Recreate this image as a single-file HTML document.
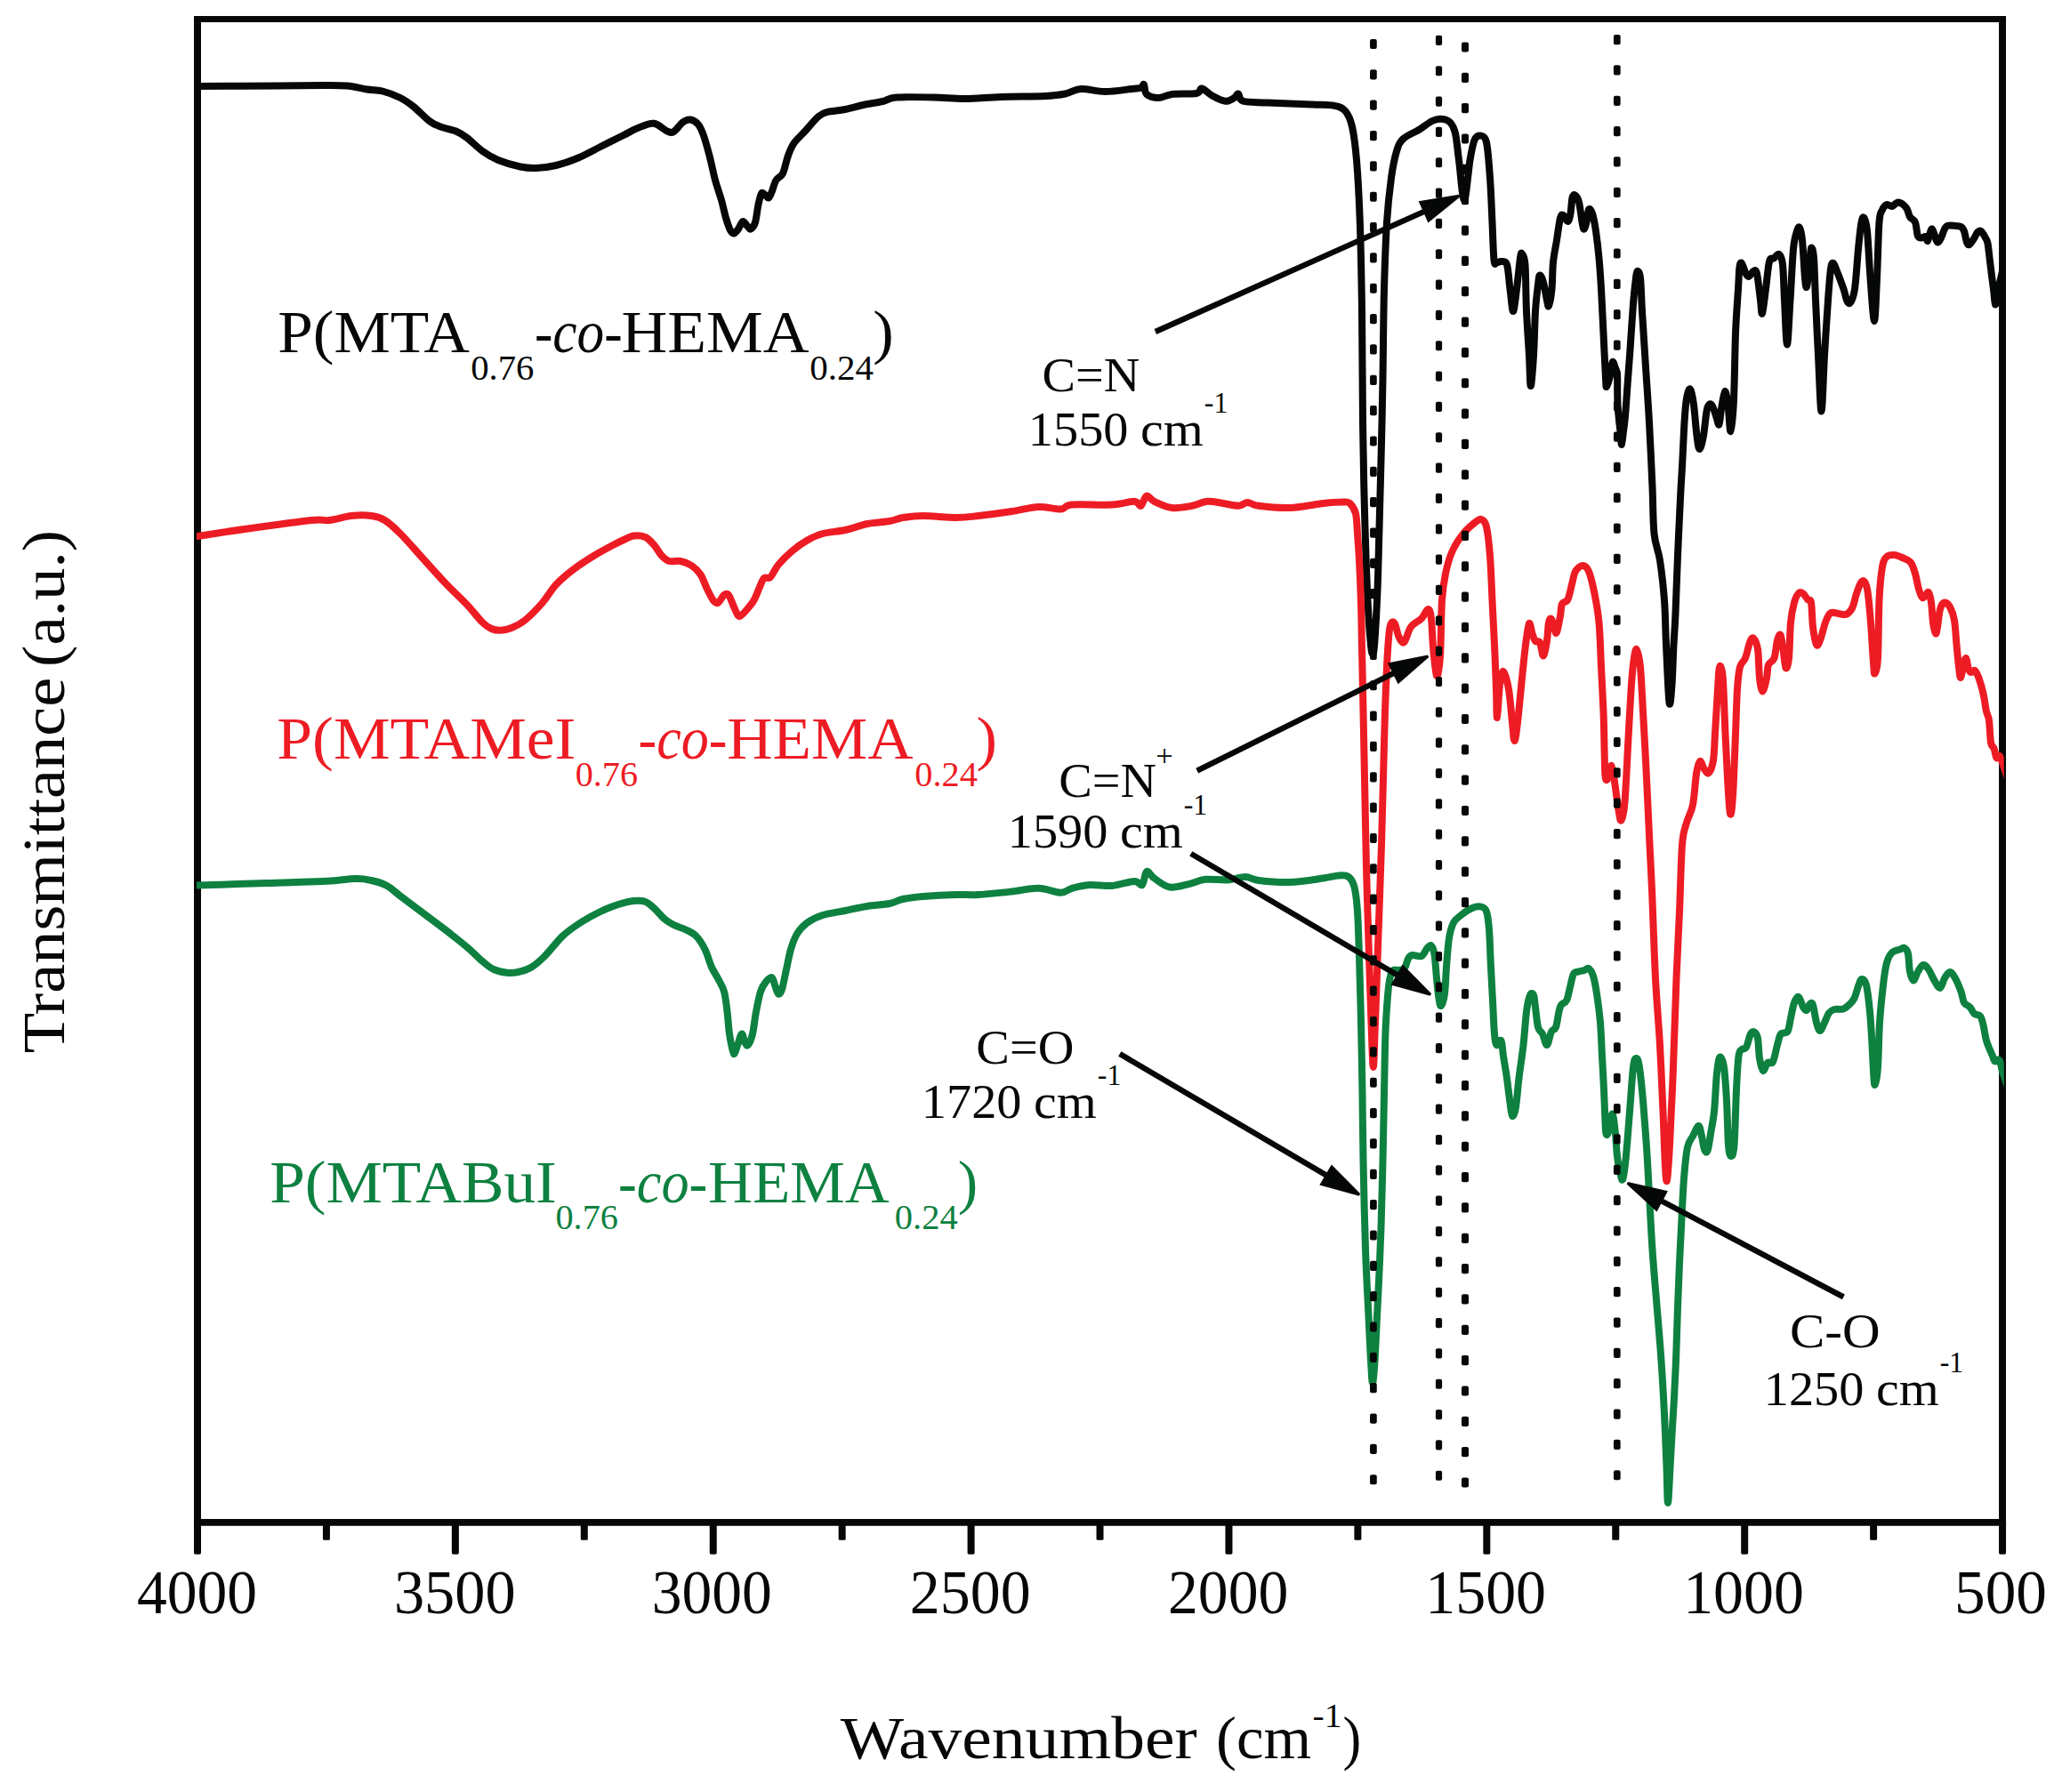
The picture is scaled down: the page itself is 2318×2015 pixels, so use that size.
<!DOCTYPE html>
<html><head><meta charset="utf-8"><title>FTIR spectra</title>
<style>html,body{margin:0;padding:0;background:#fff}svg{display:block}</style></head>
<body>
<svg width="2318" height="2015" viewBox="0 0 2318 2015" font-family="'Liberation Serif', 'DejaVu Serif', serif">
<rect width="2318" height="2015" fill="#fff"/>
<path d="M222,18V1715.8M2251.05,18V1715.8" stroke="#060807" stroke-width="7.95" fill="none"/>
<path d="M218.03,21.45H2255.03" stroke="#060807" stroke-width="6.9" fill="none"/>
<path d="M218.03,1711.95H2255.03" stroke="#060807" stroke-width="7.8" fill="none"/>
<defs><clipPath id="cc"><rect x="221" y="0" width="2031.8" height="2015"/></clipPath></defs>
<path d="M217.5,97.0C218.2,97.0 205.7,97.1 221.5,97.0C237.3,96.9 289.0,96.7 312.5,96.5C336.0,96.3 349.6,96.0 362.5,96.0C375.4,96.0 381.7,95.8 390.0,96.5C398.3,97.2 405.8,99.5 412.5,100.5C419.2,101.5 423.8,100.9 430.0,102.5C436.2,104.1 444.2,107.1 450.0,110.0C455.8,112.9 459.6,115.7 465.0,120.0C470.4,124.3 477.5,132.2 482.5,136.0C487.5,139.8 490.0,140.6 495.0,142.5C500.0,144.4 507.5,145.4 512.5,147.5C517.5,149.6 520.0,151.2 525.0,155.0C530.0,158.8 536.7,165.8 542.5,170.0C548.3,174.2 552.9,177.1 560.0,180.0C567.1,182.9 577.9,186.0 585.0,187.5C592.1,189.0 595.8,189.2 602.5,189.0C609.2,188.8 617.1,187.9 625.0,186.0C632.9,184.1 641.7,181.0 650.0,177.5C658.3,174.0 666.7,169.2 675.0,165.0C683.3,160.8 692.9,156.0 700.0,152.5C707.1,149.0 711.7,146.0 717.5,143.8C723.3,141.5 729.6,138.1 735.0,138.8C740.4,139.4 746.2,146.0 750.0,147.5C753.8,149.0 754.6,149.7 757.5,148.0C760.4,146.3 764.4,139.8 767.5,137.5C770.6,135.2 773.1,134.1 776.0,134.5C778.9,134.9 782.5,137.0 785.0,140.0C787.5,143.0 788.9,146.7 791.0,152.5C793.1,158.3 795.3,166.7 797.5,175.0C799.7,183.3 801.8,194.2 804.0,202.5C806.2,210.8 809.0,217.9 811.0,225.0C813.0,232.1 814.3,239.3 816.0,245.0C817.7,250.7 819.5,256.1 821.0,259.0C822.5,261.9 823.5,262.8 825.0,262.5C826.5,262.2 828.3,259.8 830.0,257.5C831.7,255.2 833.3,249.6 835.0,249.0C836.7,248.4 838.5,252.6 840.0,254.0C841.5,255.4 842.5,258.2 844.0,257.5C845.5,256.8 847.6,254.6 849.0,250.0C850.4,245.4 851.3,235.4 852.5,230.0C853.7,224.6 854.8,219.3 856.0,217.5C857.2,215.7 858.7,218.2 860.0,219.0C861.3,219.8 862.8,223.0 864.0,222.5C865.2,222.0 866.1,219.3 867.5,216.0C868.9,212.7 870.4,206.0 872.5,202.5C874.6,199.0 877.8,199.6 880.0,195.0C882.2,190.4 883.9,180.7 886.0,175.0C888.1,169.3 889.3,165.6 892.5,161.0C895.7,156.4 900.4,152.5 905.0,147.5C909.6,142.5 915.8,134.6 920.0,131.0C924.2,127.4 925.0,127.3 930.0,126.0C935.0,124.7 942.9,124.4 950.0,123.0C957.1,121.6 965.4,119.0 972.5,117.5C979.6,116.0 986.7,115.3 992.5,114.0C998.3,112.7 997.9,110.2 1007.5,109.5C1017.1,108.8 1037.1,109.2 1050.0,109.5C1062.9,109.8 1072.5,111.1 1085.0,111.0C1097.5,110.9 1110.0,109.5 1125.0,109.0C1140.0,108.5 1162.9,108.6 1175.0,108.0C1187.1,107.4 1190.8,106.8 1197.5,105.5C1204.2,104.2 1207.5,100.4 1215.0,100.0C1222.5,99.6 1232.9,103.0 1242.5,103.0C1252.1,103.0 1265.8,100.7 1272.5,100.0C1279.2,99.3 1280.2,99.6 1282.5,98.8C1284.8,97.9 1284.9,93.8 1286.0,95.0C1287.1,96.2 1286.2,103.5 1289.0,106.0C1291.8,108.5 1297.8,110.0 1302.5,110.0C1307.2,110.0 1310.4,106.8 1317.5,106.0C1324.6,105.2 1339.4,106.1 1345.0,105.0C1350.6,103.9 1348.1,99.1 1351.0,99.5C1353.9,99.9 1358.1,105.1 1362.5,107.5C1366.9,109.9 1373.3,113.3 1377.5,113.8C1381.7,114.2 1385.1,111.4 1387.5,110.0C1389.9,108.6 1390.3,104.9 1392.0,105.5C1393.7,106.1 1392.0,112.1 1397.5,113.8C1403.0,115.4 1412.1,114.9 1425.0,115.5C1437.9,116.1 1462.5,117.0 1475.0,117.5C1487.5,118.0 1493.8,117.5 1500.0,118.8C1506.2,120.0 1509.2,121.0 1512.5,125.0C1515.8,129.0 1517.9,133.3 1520.0,142.5C1522.1,151.7 1523.5,162.1 1525.0,180.0C1526.5,197.9 1527.8,221.7 1528.8,250.0C1529.8,278.3 1530.5,312.5 1531.0,350.0C1531.5,387.5 1531.5,437.5 1532.0,475.0C1532.5,512.5 1533.1,541.7 1534.0,575.0C1534.9,608.3 1536.3,650.0 1537.5,675.0C1538.7,700.0 1540.0,715.0 1541.0,725.0C1542.0,735.0 1542.9,737.2 1543.8,735.0C1544.6,732.8 1545.1,726.2 1546.0,712.0C1546.9,697.8 1548.2,672.8 1549.0,650.0C1549.8,627.2 1550.3,600.5 1551.0,575.0C1551.7,549.5 1552.4,522.0 1553.0,497.0C1553.6,472.0 1554.0,453.7 1554.5,425.0C1555.0,396.3 1555.2,354.2 1556.0,325.0C1556.8,295.8 1557.7,270.8 1559.0,250.0C1560.3,229.2 1562.2,213.3 1564.0,200.0C1565.8,186.7 1567.8,177.3 1570.0,170.0C1572.2,162.7 1573.3,160.0 1577.5,156.0C1581.7,152.0 1589.6,149.3 1595.0,146.0C1600.4,142.7 1605.8,138.0 1610.0,136.0C1614.2,134.0 1616.7,133.5 1620.0,133.8C1623.3,134.0 1627.3,134.8 1630.0,137.5C1632.7,140.2 1634.3,142.9 1636.0,150.0C1637.7,157.1 1638.3,167.5 1640.0,180.0C1641.7,192.5 1643.9,225.0 1646.0,225.0C1648.1,225.0 1650.6,191.2 1652.5,180.0C1654.4,168.8 1655.6,162.1 1657.5,157.5C1659.4,152.9 1661.8,152.1 1664.0,152.5C1666.2,152.9 1669.2,152.1 1671.0,160.0C1672.8,167.9 1673.9,185.0 1675.0,200.0C1676.1,215.0 1676.8,234.6 1677.5,250.0C1678.2,265.4 1678.7,284.9 1679.5,292.5C1680.3,300.1 1681.2,295.2 1682.5,295.5C1683.8,295.8 1685.6,293.7 1687.5,294.0C1689.4,294.3 1692.3,292.3 1694.0,297.5C1695.7,302.7 1696.3,316.2 1697.5,325.0C1698.7,333.8 1699.8,350.0 1701.0,350.0C1702.2,350.0 1703.7,335.0 1705.0,325.0C1706.3,315.0 1708.0,296.6 1709.0,290.0C1710.0,283.4 1710.1,284.2 1711.0,285.5C1711.9,286.8 1713.7,286.8 1714.5,297.5C1715.3,308.2 1715.2,332.9 1716.0,350.0C1716.8,367.1 1718.2,386.0 1719.0,400.0C1719.8,414.0 1719.9,434.0 1720.8,434.0C1721.6,434.0 1723.1,414.0 1724.0,400.0C1724.9,386.0 1725.2,363.3 1726.0,350.0C1726.8,336.7 1728.2,326.8 1729.0,320.0C1729.8,313.2 1730.0,309.9 1731.0,309.5C1732.0,309.1 1733.7,312.8 1735.0,317.5C1736.3,322.2 1738.0,333.1 1739.0,337.5C1740.0,341.9 1740.1,346.1 1741.0,344.0C1741.9,341.9 1743.7,333.2 1744.5,325.0C1745.3,316.8 1745.1,304.2 1746.0,295.0C1746.9,285.8 1748.7,278.3 1750.0,270.0C1751.3,261.7 1752.8,249.7 1754.0,245.0C1755.2,240.3 1756.1,241.3 1757.5,242.0C1758.9,242.7 1761.2,249.3 1762.5,249.0C1763.8,248.7 1764.7,244.4 1765.5,240.0C1766.3,235.6 1766.7,225.9 1767.5,222.5C1768.3,219.1 1769.2,218.7 1770.5,219.5C1771.8,220.3 1773.6,222.0 1775.0,227.5C1776.4,233.0 1778.0,247.5 1779.0,252.5C1780.0,257.5 1780.2,258.3 1781.0,257.5C1781.8,256.7 1783.2,251.2 1784.0,247.5C1784.8,243.8 1785.0,236.8 1786.0,235.5C1787.0,234.2 1788.7,235.9 1790.0,240.0C1791.3,244.1 1792.8,251.7 1794.0,260.0C1795.2,268.3 1796.5,279.2 1797.5,290.0C1798.5,300.8 1799.2,310.8 1800.0,325.0C1800.8,339.2 1801.7,358.3 1802.5,375.0C1803.3,391.7 1804.4,415.0 1805.0,425.0C1805.6,435.0 1805.2,435.4 1806.0,435.0C1806.8,434.6 1808.9,427.2 1810.0,422.5C1811.1,417.8 1811.7,408.4 1812.7,407.0C1813.7,405.6 1815.1,411.7 1816.0,414.0C1816.9,416.3 1817.6,416.7 1818.0,421.0C1818.4,425.3 1818.1,434.2 1818.2,440.0C1818.3,445.8 1818.3,450.7 1818.6,456.0C1818.9,461.3 1819.5,466.7 1820.0,472.0C1820.5,477.3 1821.3,483.3 1821.8,488.0C1822.3,492.7 1822.5,500.5 1823.0,500.0C1823.5,499.5 1824.3,490.3 1825.0,485.0C1825.7,479.7 1826.2,476.8 1827.0,468.0C1827.8,459.2 1828.7,444.0 1829.6,432.0C1830.5,420.0 1831.2,410.8 1832.3,396.0C1833.3,381.2 1834.9,356.3 1835.9,343.0C1837.0,329.7 1837.8,322.3 1838.6,316.0C1839.3,309.7 1839.5,305.6 1840.4,305.0C1841.3,304.4 1843.1,305.0 1844.0,312.5C1844.9,320.0 1845.0,333.3 1846.0,350.0C1847.0,366.7 1848.7,391.7 1850.0,412.5C1851.3,433.3 1852.8,452.5 1854.0,475.0C1855.2,497.5 1856.6,526.7 1857.5,547.5C1858.4,568.3 1858.1,586.2 1859.5,600.0C1860.9,613.8 1864.1,617.5 1866.0,630.0C1867.9,642.5 1869.8,659.2 1871.0,675.0C1872.2,690.8 1872.1,705.8 1873.0,725.0C1873.9,744.2 1875.4,782.5 1876.5,790.0C1877.6,797.5 1878.7,780.8 1879.5,770.0C1880.3,759.2 1880.8,738.3 1881.5,725.0C1882.2,711.7 1882.8,706.7 1883.5,690.0C1884.2,673.3 1885.1,646.7 1886.0,625.0C1886.9,603.3 1888.2,576.7 1889.0,560.0C1889.8,543.3 1890.2,539.2 1891.0,525.0C1891.8,510.8 1892.7,487.8 1893.5,475.0C1894.3,462.2 1894.9,454.2 1896.0,448.0C1897.1,441.8 1898.7,436.3 1900.0,437.5C1901.3,438.7 1902.8,446.2 1904.0,455.0C1905.2,463.8 1906.4,481.7 1907.5,490.0C1908.6,498.3 1909.2,505.0 1910.5,505.0C1911.8,505.0 1913.6,497.5 1915.0,490.0C1916.4,482.5 1917.5,465.8 1919.0,460.0C1920.5,454.2 1922.3,453.8 1924.0,455.0C1925.7,456.2 1927.6,463.8 1929.0,467.5C1930.4,471.2 1931.5,478.8 1932.5,477.5C1933.5,476.2 1933.9,466.2 1935.0,460.0C1936.1,453.8 1937.8,440.8 1939.0,440.0C1940.2,439.2 1941.4,447.5 1942.5,455.0C1943.6,462.5 1944.4,485.8 1945.5,485.0C1946.6,484.2 1948.1,468.3 1949.0,450.0C1949.9,431.7 1950.2,395.8 1951.0,375.0C1951.8,354.2 1953.2,337.5 1954.0,325.0C1954.8,312.5 1954.8,304.8 1955.5,300.0C1956.2,295.2 1956.8,294.8 1958.0,296.0C1959.2,297.2 1961.2,305.0 1962.5,307.5C1963.8,310.0 1964.6,311.4 1966.0,311.0C1967.4,310.6 1969.5,305.6 1971.0,305.0C1972.5,304.4 1973.7,302.1 1975.0,307.5C1976.3,312.9 1978.0,330.0 1979.0,337.5C1980.0,345.0 1980.0,354.6 1981.0,352.5C1982.0,350.4 1983.7,334.8 1985.0,325.0C1986.3,315.2 1987.5,299.8 1989.0,294.0C1990.5,288.2 1992.2,291.8 1994.0,290.5C1995.8,289.2 1998.3,284.8 2000.0,286.0C2001.7,287.2 2003.0,288.9 2004.0,297.5C2005.0,306.1 2005.2,322.5 2006.0,337.5C2006.8,352.5 2007.9,387.5 2009.0,387.5C2010.1,387.5 2011.3,355.4 2012.5,337.5C2013.7,319.6 2014.8,292.9 2016.0,280.0C2017.2,267.1 2018.8,264.0 2020.0,260.0C2021.2,256.0 2022.0,254.3 2023.0,256.0C2024.0,257.7 2025.0,260.6 2026.0,270.0C2027.0,279.4 2028.2,303.8 2029.0,312.5C2029.8,321.2 2030.2,324.6 2031.0,322.5C2031.8,320.4 2033.2,307.2 2034.0,300.0C2034.8,292.8 2035.2,280.7 2036.0,279.0C2036.8,277.3 2038.2,280.2 2039.0,290.0C2039.8,299.8 2040.2,319.2 2041.0,337.5C2041.8,355.8 2042.9,379.2 2044.0,400.0C2045.1,420.8 2046.3,462.5 2047.5,462.5C2048.7,462.5 2049.8,420.8 2051.0,400.0C2052.2,379.2 2053.8,353.8 2055.0,337.5C2056.2,321.2 2057.0,309.4 2058.0,302.5C2059.0,295.6 2059.7,295.2 2061.0,296.0C2062.3,296.8 2064.1,302.7 2066.0,307.5C2067.9,312.3 2070.8,320.0 2072.5,325.0C2074.2,330.0 2074.8,334.9 2076.0,337.5C2077.2,340.1 2078.5,342.6 2080.0,340.5C2081.5,338.4 2083.5,335.1 2085.0,325.0C2086.5,314.9 2087.8,292.5 2089.0,280.0C2090.2,267.5 2091.4,255.8 2092.5,250.0C2093.6,244.2 2094.4,243.3 2095.5,245.0C2096.6,246.7 2097.8,248.8 2099.0,260.0C2100.2,271.2 2101.2,295.7 2102.5,312.5C2103.8,329.3 2105.8,361.0 2107.0,361.0C2108.2,361.0 2109.1,331.0 2110.0,312.5C2110.9,294.0 2111.5,262.8 2112.5,250.0C2113.5,237.2 2114.6,239.3 2116.0,236.0C2117.4,232.7 2119.2,230.7 2121.0,230.0C2122.8,229.3 2124.8,232.4 2127.0,232.0C2129.2,231.6 2131.3,227.2 2134.0,227.5C2136.7,227.8 2140.8,231.0 2143.0,233.8C2145.2,236.5 2145.3,241.0 2147.0,243.8C2148.7,246.5 2151.5,246.5 2153.0,250.0C2154.5,253.5 2154.7,262.1 2155.8,265.0C2156.8,267.9 2158.0,267.3 2159.5,267.5C2161.0,267.7 2163.2,265.4 2164.5,266.0C2165.8,266.6 2166.2,271.6 2167.0,271.0C2167.8,270.4 2168.7,264.8 2169.5,262.5C2170.3,260.2 2171.1,257.1 2172.0,257.5C2172.9,257.9 2174.0,262.5 2175.0,265.0C2176.0,267.5 2176.8,272.1 2178.0,272.5C2179.2,272.9 2180.7,270.0 2182.0,267.5C2183.3,265.0 2184.8,259.8 2186.0,257.5C2187.2,255.2 2187.7,254.4 2189.5,253.8C2191.3,253.1 2194.5,253.5 2197.0,253.8C2199.5,254.0 2202.7,254.0 2204.5,255.0C2206.3,256.0 2206.9,257.1 2208.0,260.0C2209.1,262.9 2210.0,270.0 2211.0,272.5C2212.0,275.0 2212.6,275.8 2214.0,275.0C2215.4,274.2 2218.0,269.8 2219.5,267.5C2221.0,265.2 2221.8,262.2 2223.0,261.0C2224.2,259.8 2225.5,258.9 2227.0,260.0C2228.5,261.1 2230.8,265.2 2232.0,267.5C2233.2,269.8 2233.7,269.6 2234.5,273.6C2235.3,277.6 2236.0,285.4 2236.7,291.4C2237.4,297.3 2238.2,303.4 2238.9,309.3C2239.7,315.2 2240.5,321.5 2241.2,327.0C2241.9,332.5 2242.3,341.7 2243.0,342.5C2243.7,343.3 2244.8,335.8 2245.5,332.0C2246.2,328.2 2246.6,324.5 2247.5,320.0C2248.4,315.5 2249.2,312.5 2251.0,305.0C2252.8,297.5 2256.8,280.0 2258.0,275.0" stroke="#060807" stroke-width="8" stroke-linejoin="round" stroke-linecap="butt" fill="none" clip-path="url(#cc)"/>
<path d="M217.5,603.6C218.2,603.5 211.9,604.4 221.5,603.0C231.1,601.6 253.6,598.0 275.0,595.0C296.4,592.0 334.2,586.7 350.0,585.0C365.8,583.3 362.5,585.8 370.0,585.0C377.5,584.2 387.1,580.8 395.0,580.0C402.9,579.2 411.2,579.2 417.5,580.0C423.8,580.8 427.1,581.7 432.5,585.0C437.9,588.3 442.9,592.9 450.0,600.0C457.1,607.1 466.7,618.3 475.0,627.5C483.3,636.7 491.7,646.2 500.0,655.0C508.3,663.8 517.9,672.5 525.0,680.0C532.1,687.5 537.9,695.5 542.5,700.0C547.1,704.5 549.2,705.5 552.5,707.0C555.8,708.5 558.8,708.9 562.5,708.8C566.2,708.6 570.4,707.9 575.0,706.0C579.6,704.1 584.2,702.2 590.0,697.5C595.8,692.8 604.2,684.2 610.0,677.5C615.8,670.8 619.2,663.8 625.0,657.5C630.8,651.2 637.9,645.4 645.0,640.0C652.1,634.6 660.0,629.6 667.5,625.0C675.0,620.4 684.6,615.4 690.0,612.5C695.4,609.6 696.2,609.2 700.0,607.5C703.8,605.8 708.3,603.1 712.5,602.5C716.7,601.9 721.2,602.1 725.0,603.8C728.8,605.4 731.8,609.0 735.0,612.5C738.2,616.0 741.1,621.9 744.0,625.0C746.9,628.1 749.0,630.0 752.5,631.0C756.0,632.0 760.8,630.2 765.0,631.0C769.2,631.8 773.8,633.5 777.5,636.0C781.2,638.5 784.6,641.6 787.5,646.0C790.4,650.4 792.5,657.5 795.0,662.5C797.5,667.5 800.4,673.5 802.5,676.0C804.6,678.5 805.6,678.7 807.5,677.5C809.4,676.3 812.1,670.4 814.0,669.0C815.9,667.6 817.3,667.2 819.0,669.0C820.7,670.8 822.3,676.3 824.0,680.0C825.7,683.7 827.6,688.9 829.0,691.0C830.4,693.1 830.7,693.5 832.5,692.5C834.3,691.5 837.5,687.9 840.0,685.0C842.5,682.1 845.2,679.2 847.5,675.0C849.8,670.8 852.1,664.2 854.0,660.0C855.9,655.8 857.0,651.8 859.0,650.0C861.0,648.2 863.3,651.5 866.0,649.0C868.7,646.5 871.0,639.8 875.0,635.0C879.0,630.2 884.6,624.6 890.0,620.0C895.4,615.4 901.7,610.8 907.5,607.5C913.3,604.2 917.9,601.9 925.0,600.0C932.1,598.1 941.7,597.8 950.0,596.0C958.3,594.2 966.7,590.7 975.0,589.0C983.3,587.3 993.3,587.2 1000.0,586.0C1006.7,584.8 1008.8,583.0 1015.0,582.0C1021.2,581.0 1027.5,580.0 1037.5,580.0C1047.5,580.0 1064.6,582.0 1075.0,582.0C1085.4,582.0 1089.6,581.2 1100.0,580.0C1110.4,578.8 1126.2,576.7 1137.5,575.0C1148.8,573.3 1158.3,570.4 1167.5,570.0C1176.7,569.6 1186.2,572.9 1192.5,572.5C1198.8,572.1 1195.4,568.3 1205.0,567.5C1214.6,566.7 1238.3,568.1 1250.0,567.5C1261.7,566.9 1269.6,563.5 1275.0,563.8C1280.4,564.0 1280.2,569.8 1282.5,568.8C1284.8,567.7 1286.5,558.3 1289.0,557.5C1291.5,556.7 1292.8,561.5 1297.5,563.8C1302.2,566.0 1310.4,570.2 1317.5,571.0C1324.6,571.8 1333.3,570.0 1340.0,568.8C1346.7,567.5 1351.7,564.2 1357.5,563.8C1363.3,563.3 1369.2,565.2 1375.0,566.0C1380.8,566.8 1387.9,568.9 1392.5,568.8C1397.1,568.6 1398.8,565.0 1402.5,565.0C1406.2,565.0 1407.1,567.8 1415.0,568.8C1422.9,569.8 1437.9,571.5 1450.0,571.0C1462.1,570.5 1477.5,567.1 1487.5,566.0C1497.5,564.9 1505.0,564.5 1510.0,564.5C1515.0,564.5 1515.2,563.8 1517.5,566.0C1519.8,568.2 1522.6,571.8 1524.0,577.5C1525.4,583.2 1525.3,591.2 1526.0,600.0C1526.7,608.8 1527.3,616.7 1528.0,630.0C1528.7,643.3 1529.5,663.3 1530.0,680.0C1530.5,696.7 1530.6,710.0 1531.0,730.0C1531.4,750.0 1532.0,775.8 1532.5,800.0C1533.0,824.2 1533.4,845.8 1534.0,875.0C1534.6,904.2 1535.2,941.7 1536.0,975.0C1536.8,1008.3 1538.1,1045.8 1539.0,1075.0C1539.9,1104.2 1540.7,1129.2 1541.5,1150.0C1542.3,1170.8 1543.0,1200.0 1543.8,1200.0C1544.5,1200.0 1545.0,1175.0 1546.0,1150.0C1547.0,1125.0 1548.3,1083.3 1549.5,1050.0C1550.7,1016.7 1552.1,979.2 1553.0,950.0C1553.9,920.8 1554.3,900.0 1555.0,875.0C1555.7,850.0 1556.2,822.5 1557.0,800.0C1557.8,777.5 1558.6,755.8 1559.5,740.0C1560.4,724.2 1561.2,711.6 1562.5,705.0C1563.8,698.4 1565.8,698.7 1567.5,700.5C1569.2,702.3 1570.7,712.4 1572.5,716.0C1574.3,719.6 1576.2,723.8 1578.5,722.0C1580.8,720.2 1582.8,709.4 1586.0,705.0C1589.2,700.6 1594.8,698.8 1598.0,695.5C1601.2,692.2 1603.7,684.9 1605.5,685.0C1607.3,685.1 1608.1,689.0 1609.0,696.0C1609.9,703.0 1610.0,716.3 1611.0,727.0C1612.0,737.7 1613.7,758.2 1615.0,760.0C1616.3,761.8 1618.0,751.7 1619.0,737.5C1620.0,723.3 1620.0,690.4 1621.0,675.0C1622.0,659.6 1623.1,654.2 1625.0,645.0C1626.9,635.8 1629.2,627.5 1632.5,620.0C1635.8,612.5 1640.4,605.7 1645.0,600.0C1649.6,594.3 1656.5,588.6 1660.0,586.0C1663.5,583.4 1664.2,583.4 1666.0,584.5C1667.8,585.6 1669.5,585.8 1671.0,592.5C1672.5,599.2 1673.9,611.2 1675.0,625.0C1676.1,638.8 1676.7,658.3 1677.5,675.0C1678.3,691.7 1679.2,708.3 1680.0,725.0C1680.8,741.7 1681.5,761.3 1682.0,775.0C1682.5,788.7 1682.3,807.8 1683.0,807.0C1683.7,806.2 1684.8,778.7 1686.0,770.0C1687.2,761.3 1688.3,754.2 1690.0,755.0C1691.7,755.8 1694.3,765.4 1696.0,775.0C1697.7,784.6 1698.9,802.8 1700.0,812.5C1701.1,822.2 1701.5,833.0 1702.5,833.0C1703.5,833.0 1704.6,824.2 1706.0,812.5C1707.4,800.8 1709.5,777.1 1711.0,762.5C1712.5,747.9 1713.7,735.2 1715.0,725.0C1716.3,714.8 1717.8,703.1 1719.0,701.0C1720.2,698.9 1721.3,709.2 1722.5,712.5C1723.7,715.8 1724.6,719.3 1726.0,721.0C1727.4,722.7 1729.5,719.8 1731.0,722.5C1732.5,725.2 1733.7,737.9 1735.0,737.5C1736.3,737.1 1738.0,726.2 1739.0,720.0C1740.0,713.8 1740.2,704.0 1741.0,700.0C1741.8,696.0 1742.9,694.8 1744.0,696.0C1745.1,697.2 1746.5,705.0 1747.5,707.5C1748.5,710.0 1748.9,713.5 1750.0,711.0C1751.1,708.5 1753.0,697.8 1754.0,692.5C1755.0,687.2 1754.6,682.1 1756.0,679.0C1757.4,675.9 1760.6,678.0 1762.5,674.0C1764.4,670.0 1766.1,660.2 1767.5,655.0C1768.9,649.8 1769.1,645.7 1771.0,642.5C1772.9,639.3 1776.5,636.0 1779.0,636.0C1781.5,636.0 1783.8,637.2 1786.0,642.5C1788.2,647.8 1790.6,657.9 1792.5,667.5C1794.4,677.1 1796.2,686.2 1797.5,700.0C1798.8,713.8 1799.2,733.3 1800.0,750.0C1800.8,766.7 1801.9,785.0 1802.5,800.0C1803.1,815.0 1803.2,828.0 1803.5,840.0C1803.8,852.0 1803.9,866.0 1804.5,872.0C1805.1,878.0 1805.8,877.8 1807.0,876.0C1808.2,874.2 1810.1,859.9 1811.5,861.0C1812.9,862.1 1814.2,874.2 1815.5,882.5C1816.8,890.8 1818.3,904.3 1819.5,911.0C1820.7,917.7 1821.3,924.0 1822.5,922.5C1823.7,921.0 1825.2,917.4 1826.5,902.0C1827.8,886.6 1829.2,853.2 1830.5,830.0C1831.8,806.8 1833.2,778.6 1834.5,762.5C1835.8,746.4 1837.0,738.6 1838.0,733.5C1839.0,728.4 1839.5,729.2 1840.5,732.0C1841.5,734.8 1842.9,738.7 1844.0,750.0C1845.1,761.3 1845.8,779.2 1847.0,800.0C1848.2,820.8 1849.8,850.0 1851.0,875.0C1852.2,900.0 1853.5,929.2 1854.5,950.0C1855.5,970.8 1855.9,975.0 1857.0,1000.0C1858.1,1025.0 1859.5,1070.8 1861.0,1100.0C1862.5,1129.2 1864.6,1150.0 1866.0,1175.0C1867.4,1200.0 1868.5,1227.2 1869.5,1250.0C1870.5,1272.8 1871.2,1299.2 1872.0,1312.0C1872.8,1324.8 1873.2,1331.1 1874.0,1327.0C1874.8,1322.9 1875.8,1308.7 1877.0,1287.5C1878.2,1266.3 1879.8,1231.2 1881.0,1200.0C1882.2,1168.8 1883.3,1129.2 1884.5,1100.0C1885.7,1070.8 1886.9,1050.0 1888.0,1025.0C1889.1,1000.0 1889.7,966.7 1891.0,950.0C1892.3,933.3 1894.0,932.5 1896.0,925.0C1898.0,917.5 1901.2,914.2 1903.0,905.0C1904.8,895.8 1905.7,878.2 1907.0,870.0C1908.3,861.8 1909.5,856.8 1911.0,856.0C1912.5,855.2 1914.3,862.8 1916.0,865.0C1917.7,867.2 1919.3,870.7 1921.0,869.0C1922.7,867.3 1924.8,862.3 1926.0,855.0C1927.2,847.7 1927.2,838.3 1928.0,825.0C1928.8,811.7 1930.2,787.1 1931.0,775.0C1931.8,762.9 1931.9,756.7 1932.5,752.5C1933.1,748.3 1933.8,747.9 1934.5,750.0C1935.2,752.1 1936.2,752.5 1937.0,765.0C1937.8,777.5 1938.7,806.7 1939.5,825.0C1940.3,843.3 1941.1,860.0 1942.0,875.0C1942.9,890.0 1944.0,911.7 1945.0,915.0C1946.0,918.3 1947.0,910.0 1948.0,895.0C1949.0,880.0 1950.2,845.0 1951.0,825.0C1951.8,805.0 1952.2,787.5 1953.0,775.0C1953.8,762.5 1954.5,755.8 1956.0,750.0C1957.5,744.2 1960.2,744.6 1962.0,740.0C1963.8,735.4 1965.5,726.2 1967.0,722.5C1968.5,718.8 1969.5,716.2 1971.0,717.5C1972.5,718.8 1974.8,722.5 1976.0,730.0C1977.2,737.5 1977.1,754.6 1978.0,762.5C1978.9,770.4 1980.2,777.5 1981.5,777.5C1982.8,777.5 1984.9,767.5 1986.0,762.5C1987.1,757.5 1986.6,751.2 1988.0,747.5C1989.4,743.8 1992.8,744.6 1994.5,740.0C1996.2,735.4 1996.8,724.3 1998.0,720.0C1999.2,715.7 2000.4,712.3 2001.5,714.0C2002.6,715.7 2003.5,723.8 2004.5,730.0C2005.5,736.2 2006.4,749.3 2007.5,751.0C2008.6,752.7 2010.1,748.5 2011.0,740.0C2011.9,731.5 2012.0,710.4 2013.0,700.0C2014.0,689.6 2015.5,683.0 2017.0,677.5C2018.5,672.0 2020.3,668.7 2022.0,667.0C2023.7,665.3 2025.3,666.3 2027.0,667.5C2028.7,668.7 2030.5,672.3 2032.0,674.0C2033.5,675.7 2035.0,672.3 2036.0,677.5C2037.0,682.7 2037.0,697.1 2038.0,705.0C2039.0,712.9 2040.7,722.5 2042.0,725.0C2043.3,727.5 2044.3,724.2 2046.0,720.0C2047.7,715.8 2050.2,705.0 2052.0,700.0C2053.8,695.0 2055.3,691.8 2057.0,690.0C2058.7,688.2 2059.1,688.8 2062.0,689.0C2064.9,689.2 2071.2,691.8 2074.5,691.0C2077.8,690.2 2079.9,687.9 2082.0,684.0C2084.1,680.1 2085.3,672.3 2087.0,667.5C2088.7,662.7 2090.5,657.2 2092.0,655.0C2093.5,652.8 2094.8,652.3 2096.0,654.0C2097.2,655.7 2098.3,657.3 2099.5,665.0C2100.7,672.7 2101.9,686.7 2103.0,700.0C2104.1,713.3 2105.2,735.4 2106.0,745.0C2106.8,754.6 2106.7,758.3 2107.5,757.5C2108.3,756.7 2110.2,753.8 2111.0,740.0C2111.8,726.2 2111.7,692.1 2112.5,675.0C2113.3,657.9 2114.6,645.7 2116.0,637.5C2117.4,629.3 2118.8,628.2 2121.0,626.0C2123.2,623.8 2126.4,623.8 2129.5,624.0C2132.6,624.2 2136.4,626.1 2139.5,627.5C2142.6,628.9 2145.8,629.6 2148.0,632.5C2150.2,635.4 2151.5,640.0 2153.0,645.0C2154.5,650.0 2155.7,658.0 2157.0,662.5C2158.3,667.0 2159.8,670.8 2161.0,672.0C2162.2,673.2 2163.3,670.5 2164.5,669.5C2165.7,668.5 2166.9,664.7 2168.0,666.0C2169.1,667.3 2170.2,671.8 2171.0,677.5C2171.8,683.2 2172.2,694.2 2173.0,700.0C2173.8,705.8 2175.2,711.7 2176.0,712.5C2176.8,713.3 2177.2,709.6 2178.0,705.0C2178.8,700.4 2179.7,689.6 2181.0,685.0C2182.3,680.4 2184.2,677.9 2186.0,677.5C2187.8,677.1 2190.2,679.2 2192.0,682.5C2193.8,685.8 2195.8,690.4 2197.0,697.5C2198.2,704.6 2198.7,716.2 2199.5,725.0C2200.3,733.8 2201.2,743.8 2202.0,750.0C2202.8,756.2 2203.2,762.0 2204.0,762.0C2204.8,762.0 2206.0,753.7 2207.0,750.0C2208.0,746.3 2209.0,739.6 2210.0,740.0C2211.0,740.4 2212.0,749.8 2213.0,752.5C2214.0,755.2 2214.8,755.8 2216.0,756.0C2217.2,756.2 2218.6,752.9 2220.0,754.0C2221.4,755.1 2222.9,758.2 2224.5,762.5C2226.1,766.8 2228.1,773.8 2229.5,780.0C2230.9,786.2 2231.9,795.0 2233.0,800.0C2234.1,805.0 2235.2,804.2 2236.0,810.0C2236.8,815.8 2237.1,829.7 2238.0,835.0C2238.9,840.3 2240.5,838.8 2241.6,841.6C2242.7,844.4 2243.2,850.6 2244.3,852.0C2245.4,853.4 2246.9,849.3 2247.9,850.0C2248.9,850.7 2249.7,854.0 2250.5,856.0C2251.3,858.0 2251.5,859.0 2252.5,862.0C2253.5,865.0 2255.8,872.0 2256.5,874.0" stroke="#ED1C24" stroke-width="8" stroke-linejoin="round" stroke-linecap="butt" fill="none" clip-path="url(#cc)"/>
<path d="M217.5,995.6C218.2,995.6 207.8,995.9 221.5,995.5C235.2,995.1 276.5,993.8 300.0,993.0C323.5,992.2 345.8,991.8 362.5,991.0C379.2,990.2 390.8,988.2 400.0,988.0C409.2,987.8 411.7,988.7 417.5,990.0C423.3,991.3 429.6,993.1 435.0,996.0C440.4,998.9 444.2,1003.1 450.0,1007.5C455.8,1011.9 461.7,1016.2 470.0,1022.5C478.3,1028.8 490.8,1037.9 500.0,1045.0C509.2,1052.1 517.9,1059.0 525.0,1065.0C532.1,1071.0 537.5,1076.8 542.5,1081.0C547.5,1085.2 550.4,1087.9 555.0,1090.0C559.6,1092.1 565.4,1093.2 570.0,1093.8C574.6,1094.2 577.9,1094.0 582.5,1093.0C587.1,1092.0 592.5,1090.5 597.5,1087.5C602.5,1084.5 606.7,1080.8 612.5,1075.0C618.3,1069.2 625.8,1058.8 632.5,1052.5C639.2,1046.2 645.4,1042.1 652.5,1037.5C659.6,1032.9 667.9,1028.4 675.0,1025.0C682.1,1021.6 688.8,1019.0 695.0,1017.0C701.2,1015.0 707.5,1013.5 712.5,1013.0C717.5,1012.5 721.2,1012.4 725.0,1013.8C728.8,1015.1 731.2,1017.7 735.0,1021.0C738.8,1024.3 743.8,1030.6 747.5,1033.8C751.2,1036.9 753.8,1038.1 757.5,1040.0C761.2,1041.9 765.8,1042.9 770.0,1045.0C774.2,1047.1 778.8,1048.8 782.5,1052.5C786.2,1056.2 789.6,1061.7 792.5,1067.5C795.4,1073.3 797.5,1081.9 800.0,1087.5C802.5,1093.1 805.2,1096.4 807.5,1101.0C809.8,1105.6 812.3,1108.9 814.0,1115.0C815.7,1121.1 816.5,1129.6 817.5,1137.5C818.5,1145.4 818.9,1155.0 820.0,1162.5C821.1,1170.0 823.0,1178.9 824.0,1182.5C825.0,1186.1 825.0,1185.7 826.0,1184.0C827.0,1182.3 828.7,1176.1 830.0,1172.5C831.3,1168.9 832.8,1162.5 834.0,1162.5C835.2,1162.5 836.3,1170.4 837.5,1172.5C838.7,1174.6 839.6,1176.7 841.0,1175.0C842.4,1173.3 844.5,1168.8 846.0,1162.5C847.5,1156.2 848.5,1145.4 850.0,1137.5C851.5,1129.6 853.2,1120.6 855.0,1115.0C856.8,1109.4 858.9,1106.7 861.0,1104.0C863.1,1101.3 865.8,1098.4 867.5,1099.0C869.2,1099.6 869.8,1104.4 871.0,1107.5C872.2,1110.6 873.7,1116.7 875.0,1117.5C876.3,1118.3 877.5,1117.1 879.0,1112.5C880.5,1107.9 882.3,1097.5 884.0,1090.0C885.7,1082.5 887.0,1074.2 889.0,1067.5C891.0,1060.8 892.9,1055.0 896.0,1050.0C899.1,1045.0 902.7,1041.0 907.5,1037.5C912.3,1034.0 917.9,1031.2 925.0,1029.0C932.1,1026.8 941.7,1025.7 950.0,1024.0C958.3,1022.3 966.7,1020.3 975.0,1019.0C983.3,1017.7 993.3,1017.3 1000.0,1016.0C1006.7,1014.7 1008.8,1012.3 1015.0,1011.0C1021.2,1009.7 1027.5,1008.8 1037.5,1008.0C1047.5,1007.2 1064.6,1006.3 1075.0,1006.0C1085.4,1005.7 1089.6,1006.6 1100.0,1006.0C1110.4,1005.4 1126.2,1003.7 1137.5,1002.5C1148.8,1001.3 1158.3,998.5 1167.5,998.8C1176.7,999.0 1186.2,1003.8 1192.5,1003.8C1198.8,1003.8 1199.6,1000.2 1205.0,998.8C1210.4,997.3 1217.5,995.5 1225.0,995.0C1232.5,994.5 1241.7,996.7 1250.0,996.0C1258.3,995.3 1269.3,991.2 1275.0,991.0C1280.7,990.8 1281.7,996.8 1284.0,995.0C1286.3,993.2 1286.8,981.2 1289.0,980.0C1291.2,978.8 1293.2,984.6 1297.5,987.5C1301.8,990.4 1308.3,996.5 1315.0,997.5C1321.7,998.5 1330.8,995.2 1337.5,993.8C1344.2,992.3 1347.9,989.5 1355.0,988.8C1362.1,988.0 1372.5,990.0 1380.0,989.5C1387.5,989.0 1394.2,985.9 1400.0,986.0C1405.8,986.1 1406.7,989.0 1415.0,990.0C1423.3,991.0 1437.9,992.4 1450.0,992.0C1462.1,991.6 1478.3,988.8 1487.5,987.5C1496.7,986.2 1500.2,984.8 1505.0,984.5C1509.8,984.2 1513.1,983.8 1516.0,986.0C1518.9,988.2 1520.8,991.0 1522.5,997.5C1524.2,1004.0 1525.1,1012.1 1526.0,1025.0C1526.9,1037.9 1527.3,1054.2 1528.0,1075.0C1528.7,1095.8 1529.4,1124.2 1530.0,1150.0C1530.6,1175.8 1531.1,1204.2 1531.5,1230.0C1531.9,1255.8 1531.9,1275.8 1532.5,1305.0C1533.1,1334.2 1534.0,1375.8 1535.0,1405.0C1536.0,1434.2 1537.5,1459.2 1538.5,1480.0C1539.5,1500.8 1540.2,1517.5 1541.0,1530.0C1541.8,1542.5 1542.2,1555.0 1543.0,1555.0C1543.8,1555.0 1544.7,1542.5 1545.5,1530.0C1546.3,1517.5 1547.2,1496.7 1548.0,1480.0C1548.8,1463.3 1549.8,1446.7 1550.5,1430.0C1551.2,1413.3 1551.8,1400.8 1552.5,1380.0C1553.2,1359.2 1553.9,1330.0 1554.5,1305.0C1555.1,1280.0 1555.5,1254.2 1556.0,1230.0C1556.5,1205.8 1556.8,1178.3 1557.5,1160.0C1558.2,1141.7 1559.2,1130.0 1560.0,1120.0C1560.8,1110.0 1561.5,1104.8 1562.5,1100.0C1563.5,1095.2 1564.3,1092.5 1566.0,1091.0C1567.7,1089.5 1570.3,1091.4 1572.5,1091.0C1574.7,1090.6 1577.2,1090.7 1579.0,1088.5C1580.8,1086.3 1581.6,1080.4 1583.0,1078.0C1584.4,1075.6 1585.0,1074.5 1587.5,1074.0C1590.0,1073.5 1595.2,1076.3 1598.0,1075.0C1600.8,1073.7 1602.7,1067.9 1604.5,1066.0C1606.3,1064.1 1607.7,1062.3 1609.0,1063.5C1610.3,1064.7 1611.5,1066.9 1612.5,1073.0C1613.5,1079.1 1614.2,1091.8 1615.0,1100.0C1615.8,1108.2 1616.7,1117.3 1617.5,1122.5C1618.3,1127.7 1618.9,1131.8 1620.0,1131.0C1621.1,1130.2 1623.0,1124.8 1624.0,1117.5C1625.0,1110.2 1625.2,1097.9 1626.0,1087.5C1626.8,1077.1 1627.7,1063.3 1629.0,1055.0C1630.3,1046.7 1631.8,1041.8 1634.0,1037.5C1636.2,1033.2 1639.0,1031.8 1642.5,1029.0C1646.0,1026.2 1651.2,1022.6 1655.0,1021.0C1658.8,1019.4 1662.3,1018.8 1665.0,1019.5C1667.7,1020.2 1669.5,1020.8 1671.0,1025.0C1672.5,1029.2 1673.2,1034.6 1674.0,1045.0C1674.8,1055.4 1675.3,1074.2 1676.0,1087.5C1676.7,1100.8 1677.3,1112.5 1678.0,1125.0C1678.7,1137.5 1679.2,1154.2 1680.0,1162.5C1680.8,1170.8 1681.2,1173.8 1682.5,1175.0C1683.8,1176.2 1686.2,1167.9 1687.5,1170.0C1688.8,1172.1 1688.9,1180.4 1690.0,1187.5C1691.1,1194.6 1692.8,1203.8 1694.0,1212.5C1695.2,1221.2 1696.5,1232.9 1697.5,1240.0C1698.5,1247.1 1698.9,1254.2 1700.0,1255.0C1701.1,1255.8 1702.8,1252.1 1704.0,1245.0C1705.2,1237.9 1706.1,1224.2 1707.5,1212.5C1708.9,1200.8 1711.1,1187.5 1712.5,1175.0C1713.9,1162.5 1714.8,1146.8 1716.0,1137.5C1717.2,1128.2 1718.7,1122.1 1720.0,1119.0C1721.3,1115.9 1723.0,1116.8 1724.0,1119.0C1725.0,1121.2 1725.2,1126.5 1726.0,1132.5C1726.8,1138.5 1727.7,1150.0 1729.0,1155.0C1730.3,1160.0 1732.3,1159.2 1734.0,1162.5C1735.7,1165.8 1737.3,1175.4 1739.0,1175.0C1740.7,1174.6 1742.3,1163.3 1744.0,1160.0C1745.7,1156.7 1747.6,1158.8 1749.0,1155.0C1750.4,1151.2 1751.5,1141.7 1752.5,1137.5C1753.5,1133.3 1753.6,1132.1 1755.0,1130.0C1756.4,1127.9 1759.3,1128.3 1761.0,1125.0C1762.7,1121.7 1763.7,1115.0 1765.0,1110.0C1766.3,1105.0 1767.3,1097.9 1769.0,1095.0C1770.7,1092.1 1773.0,1093.2 1775.0,1092.5C1777.0,1091.8 1779.2,1091.6 1781.0,1091.0C1782.8,1090.4 1784.3,1087.9 1786.0,1089.0C1787.7,1090.1 1789.5,1092.8 1791.0,1097.5C1792.5,1102.2 1793.7,1108.8 1795.0,1117.5C1796.3,1126.2 1798.0,1138.3 1799.0,1150.0C1800.0,1161.7 1800.3,1175.0 1801.0,1187.5C1801.7,1200.0 1802.4,1212.6 1803.0,1225.0C1803.6,1237.4 1804.1,1253.7 1804.5,1262.0C1804.9,1270.3 1804.9,1273.2 1805.5,1275.0C1806.1,1276.8 1806.8,1276.8 1808.0,1273.0C1809.2,1269.2 1811.2,1252.2 1812.5,1252.5C1813.8,1252.8 1815.1,1267.1 1816.0,1275.0C1816.9,1282.9 1817.0,1292.2 1818.0,1300.0C1819.0,1307.8 1820.9,1317.8 1822.0,1322.0C1823.1,1326.2 1823.5,1328.8 1824.5,1325.0C1825.5,1321.2 1826.8,1311.5 1828.0,1299.0C1829.2,1286.5 1830.7,1266.5 1832.0,1250.0C1833.3,1233.5 1834.8,1210.0 1836.0,1200.0C1837.2,1190.0 1838.3,1190.0 1839.5,1190.0C1840.7,1190.0 1841.8,1192.1 1843.0,1200.0C1844.2,1207.9 1845.7,1222.5 1847.0,1237.5C1848.3,1252.5 1849.8,1272.5 1851.0,1290.0C1852.2,1307.5 1852.9,1323.3 1854.0,1342.5C1855.1,1361.7 1856.1,1384.2 1857.5,1405.0C1858.9,1425.8 1860.8,1446.7 1862.5,1467.5C1864.2,1488.3 1866.1,1509.6 1867.5,1530.0C1868.9,1550.4 1870.0,1570.0 1871.0,1590.0C1872.0,1610.0 1872.8,1633.3 1873.5,1650.0C1874.2,1666.7 1874.3,1690.0 1875.0,1690.0C1875.7,1690.0 1876.7,1664.2 1877.5,1650.0C1878.3,1635.8 1879.2,1618.0 1880.0,1605.0C1880.8,1592.0 1881.3,1584.5 1882.0,1572.0C1882.7,1559.5 1883.3,1547.0 1884.0,1530.0C1884.7,1513.0 1885.3,1488.3 1886.0,1470.0C1886.7,1451.7 1887.3,1435.0 1888.0,1420.0C1888.7,1405.0 1889.2,1395.8 1890.0,1380.0C1890.8,1364.2 1891.8,1340.0 1893.0,1325.0C1894.2,1310.0 1895.3,1297.9 1897.0,1290.0C1898.7,1282.1 1900.9,1281.5 1903.0,1277.5C1905.1,1273.5 1907.8,1266.0 1909.5,1266.0C1911.2,1266.0 1911.9,1273.1 1913.0,1277.5C1914.1,1281.9 1914.9,1289.8 1916.0,1292.5C1917.1,1295.2 1918.3,1296.9 1919.5,1294.0C1920.7,1291.1 1921.8,1282.3 1923.0,1275.0C1924.2,1267.7 1925.9,1260.4 1927.0,1250.0C1928.1,1239.6 1928.7,1222.1 1929.5,1212.5C1930.3,1202.9 1931.2,1196.4 1932.0,1192.5C1932.8,1188.6 1933.5,1187.8 1934.5,1189.0C1935.5,1190.2 1936.9,1191.9 1938.0,1200.0C1939.1,1208.1 1940.2,1222.9 1941.0,1237.5C1941.8,1252.1 1942.2,1277.1 1943.0,1287.5C1943.8,1297.9 1944.9,1300.0 1946.0,1300.0C1947.1,1300.0 1948.5,1300.0 1949.5,1287.5C1950.5,1275.0 1951.2,1241.7 1952.0,1225.0C1952.8,1208.3 1953.5,1195.0 1954.5,1187.5C1955.5,1180.0 1956.6,1181.7 1958.0,1180.0C1959.4,1178.3 1961.3,1180.4 1963.0,1177.5C1964.7,1174.6 1966.5,1165.3 1968.0,1162.5C1969.5,1159.7 1970.7,1159.7 1972.0,1160.5C1973.3,1161.3 1975.0,1162.6 1976.0,1167.5C1977.0,1172.4 1977.0,1183.9 1978.0,1190.0C1979.0,1196.1 1980.5,1203.2 1982.0,1204.0C1983.5,1204.8 1985.2,1196.7 1987.0,1195.0C1988.8,1193.3 1991.2,1197.3 1993.0,1194.0C1994.8,1190.7 1996.5,1180.2 1998.0,1175.0C1999.5,1169.8 2000.1,1165.0 2002.0,1162.5C2003.9,1160.0 2007.7,1162.9 2009.5,1160.0C2011.3,1157.1 2011.8,1150.4 2013.0,1145.0C2014.2,1139.6 2015.5,1131.5 2017.0,1127.5C2018.5,1123.5 2020.3,1120.2 2022.0,1121.0C2023.7,1121.8 2025.5,1130.0 2027.0,1132.5C2028.5,1135.0 2029.8,1136.6 2031.0,1136.0C2032.2,1135.4 2033.3,1130.0 2034.5,1129.0C2035.7,1128.0 2036.8,1126.5 2038.0,1130.0C2039.2,1133.5 2040.7,1145.2 2042.0,1150.0C2043.3,1154.8 2044.5,1159.0 2046.0,1159.0C2047.5,1159.0 2049.3,1153.3 2051.0,1150.0C2052.7,1146.7 2054.2,1141.5 2056.0,1139.0C2057.8,1136.5 2059.3,1135.8 2062.0,1135.0C2064.7,1134.2 2069.1,1135.5 2072.0,1134.5C2074.9,1133.5 2077.4,1131.0 2079.5,1129.0C2081.6,1127.0 2082.8,1126.1 2084.5,1122.5C2086.2,1118.9 2088.1,1111.1 2089.5,1107.5C2090.9,1103.9 2091.6,1101.0 2093.0,1101.0C2094.4,1101.0 2096.5,1101.4 2098.0,1107.5C2099.5,1113.6 2100.9,1126.2 2102.0,1137.5C2103.1,1148.8 2103.8,1162.5 2104.5,1175.0C2105.2,1187.5 2105.9,1205.2 2106.5,1212.5C2107.1,1219.8 2107.2,1221.1 2108.0,1219.0C2108.8,1216.9 2110.2,1211.5 2111.0,1200.0C2111.8,1188.5 2112.0,1165.4 2113.0,1150.0C2114.0,1134.6 2115.7,1118.8 2117.0,1107.5C2118.3,1096.2 2119.3,1088.6 2121.0,1082.5C2122.7,1076.4 2124.5,1073.5 2127.0,1071.0C2129.5,1068.5 2133.7,1068.3 2136.0,1067.5C2138.3,1066.7 2139.5,1065.2 2141.0,1066.0C2142.5,1066.8 2144.0,1068.1 2145.0,1072.5C2146.0,1076.9 2146.0,1087.5 2147.0,1092.5C2148.0,1097.5 2149.5,1102.5 2151.0,1102.5C2152.5,1102.5 2154.2,1095.4 2156.0,1092.5C2157.8,1089.6 2160.0,1085.4 2162.0,1085.0C2164.0,1084.6 2165.9,1087.1 2168.0,1090.0C2170.1,1092.9 2172.3,1099.0 2174.5,1102.5C2176.7,1106.0 2179.1,1111.4 2181.0,1111.0C2182.9,1110.6 2184.2,1103.0 2186.0,1100.0C2187.8,1097.0 2190.0,1093.0 2192.0,1093.0C2194.0,1093.0 2195.9,1096.3 2198.0,1100.0C2200.1,1103.7 2202.8,1110.4 2204.5,1115.0C2206.2,1119.6 2206.3,1124.6 2208.0,1127.5C2209.7,1130.4 2212.6,1130.4 2214.5,1132.5C2216.4,1134.6 2217.6,1138.3 2219.5,1140.0C2221.4,1141.7 2224.3,1140.4 2226.0,1142.5C2227.7,1144.6 2228.3,1147.9 2229.5,1152.5C2230.7,1157.1 2231.3,1164.2 2233.0,1170.0C2234.7,1175.8 2238.2,1183.1 2239.8,1187.0C2241.4,1190.9 2241.5,1192.7 2242.5,1193.4C2243.5,1194.2 2245.0,1191.4 2246.0,1191.5C2247.0,1191.6 2247.8,1192.1 2248.5,1194.0C2249.2,1195.9 2249.8,1200.5 2250.5,1203.0C2251.2,1205.5 2251.5,1206.0 2252.5,1209.0C2253.5,1212.0 2255.8,1219.0 2256.5,1221.0" stroke="#0E8140" stroke-width="8" stroke-linejoin="round" stroke-linecap="butt" fill="none" clip-path="url(#cc)"/>
<g fill="#060807"><rect x="1540.05" y="43.90" width="7.7" height="11.2" rx="2"/><rect x="1540.05" y="78.25" width="7.7" height="11.2" rx="2"/><rect x="1540.05" y="112.59" width="7.7" height="11.2" rx="2"/><rect x="1540.05" y="146.94" width="7.7" height="11.2" rx="2"/><rect x="1540.05" y="181.28" width="7.7" height="11.2" rx="2"/><rect x="1540.05" y="215.63" width="7.7" height="11.2" rx="2"/><rect x="1540.05" y="249.97" width="7.7" height="11.2" rx="2"/><rect x="1540.05" y="284.32" width="7.7" height="11.2" rx="2"/><rect x="1540.05" y="318.67" width="7.7" height="11.2" rx="2"/><rect x="1540.05" y="353.01" width="7.7" height="11.2" rx="2"/><rect x="1540.05" y="387.36" width="7.7" height="11.2" rx="2"/><rect x="1540.05" y="421.70" width="7.7" height="11.2" rx="2"/><rect x="1540.05" y="456.05" width="7.7" height="11.2" rx="2"/><rect x="1540.05" y="490.39" width="7.7" height="11.2" rx="2"/><rect x="1540.05" y="524.74" width="7.7" height="11.2" rx="2"/><rect x="1540.05" y="559.09" width="7.7" height="11.2" rx="2"/><rect x="1540.05" y="593.43" width="7.7" height="11.2" rx="2"/><rect x="1540.05" y="627.78" width="7.7" height="11.2" rx="2"/><rect x="1540.05" y="662.12" width="7.7" height="11.2" rx="2"/><rect x="1540.05" y="696.47" width="7.7" height="11.2" rx="2"/><rect x="1540.05" y="730.81" width="7.7" height="11.2" rx="2"/><rect x="1540.05" y="765.16" width="7.7" height="11.2" rx="2"/><rect x="1540.05" y="799.51" width="7.7" height="11.2" rx="2"/><rect x="1540.05" y="833.85" width="7.7" height="11.2" rx="2"/><rect x="1540.05" y="868.20" width="7.7" height="11.2" rx="2"/><rect x="1540.05" y="902.54" width="7.7" height="11.2" rx="2"/><rect x="1540.05" y="936.89" width="7.7" height="11.2" rx="2"/><rect x="1540.05" y="971.24" width="7.7" height="11.2" rx="2"/><rect x="1540.05" y="1005.58" width="7.7" height="11.2" rx="2"/><rect x="1540.05" y="1039.93" width="7.7" height="11.2" rx="2"/><rect x="1540.05" y="1074.27" width="7.7" height="11.2" rx="2"/><rect x="1540.05" y="1108.62" width="7.7" height="11.2" rx="2"/><rect x="1540.05" y="1142.96" width="7.7" height="11.2" rx="2"/><rect x="1540.05" y="1177.31" width="7.7" height="11.2" rx="2"/><rect x="1540.05" y="1211.66" width="7.7" height="11.2" rx="2"/><rect x="1540.05" y="1246.00" width="7.7" height="11.2" rx="2"/><rect x="1540.05" y="1280.35" width="7.7" height="11.2" rx="2"/><rect x="1540.05" y="1314.69" width="7.7" height="11.2" rx="2"/><rect x="1540.05" y="1349.04" width="7.7" height="11.2" rx="2"/><rect x="1540.05" y="1383.38" width="7.7" height="11.2" rx="2"/><rect x="1540.05" y="1417.73" width="7.7" height="11.2" rx="2"/><rect x="1540.05" y="1452.08" width="7.7" height="11.2" rx="2"/><rect x="1540.05" y="1486.42" width="7.7" height="11.2" rx="2"/><rect x="1540.05" y="1520.77" width="7.7" height="11.2" rx="2"/><rect x="1540.05" y="1555.11" width="7.7" height="11.2" rx="2"/><rect x="1540.05" y="1589.46" width="7.7" height="11.2" rx="2"/><rect x="1540.05" y="1623.80" width="7.7" height="11.2" rx="2"/><rect x="1540.05" y="1658.15" width="7.7" height="11.2" rx="2"/></g>
<g fill="#060807"><rect x="1613.90" y="39.80" width="7.2" height="11.2" rx="2"/><rect x="1613.90" y="74.14" width="7.2" height="11.2" rx="2"/><rect x="1613.90" y="108.47" width="7.2" height="11.2" rx="2"/><rect x="1613.90" y="142.81" width="7.2" height="11.2" rx="2"/><rect x="1613.90" y="177.15" width="7.2" height="11.2" rx="2"/><rect x="1613.90" y="211.49" width="7.2" height="11.2" rx="2"/><rect x="1613.90" y="245.82" width="7.2" height="11.2" rx="2"/><rect x="1613.90" y="280.16" width="7.2" height="11.2" rx="2"/><rect x="1613.90" y="314.50" width="7.2" height="11.2" rx="2"/><rect x="1613.90" y="348.84" width="7.2" height="11.2" rx="2"/><rect x="1613.90" y="383.17" width="7.2" height="11.2" rx="2"/><rect x="1613.90" y="417.51" width="7.2" height="11.2" rx="2"/><rect x="1613.90" y="451.85" width="7.2" height="11.2" rx="2"/><rect x="1613.90" y="486.18" width="7.2" height="11.2" rx="2"/><rect x="1613.90" y="520.52" width="7.2" height="11.2" rx="2"/><rect x="1613.90" y="554.86" width="7.2" height="11.2" rx="2"/><rect x="1613.90" y="589.20" width="7.2" height="11.2" rx="2"/><rect x="1613.90" y="623.53" width="7.2" height="11.2" rx="2"/><rect x="1613.90" y="657.87" width="7.2" height="11.2" rx="2"/><rect x="1613.90" y="692.21" width="7.2" height="11.2" rx="2"/><rect x="1613.90" y="726.54" width="7.2" height="11.2" rx="2"/><rect x="1613.90" y="760.88" width="7.2" height="11.2" rx="2"/><rect x="1613.90" y="795.22" width="7.2" height="11.2" rx="2"/><rect x="1613.90" y="829.56" width="7.2" height="11.2" rx="2"/><rect x="1613.90" y="863.89" width="7.2" height="11.2" rx="2"/><rect x="1613.90" y="898.23" width="7.2" height="11.2" rx="2"/><rect x="1613.90" y="932.57" width="7.2" height="11.2" rx="2"/><rect x="1613.90" y="966.91" width="7.2" height="11.2" rx="2"/><rect x="1613.90" y="1001.24" width="7.2" height="11.2" rx="2"/><rect x="1613.90" y="1035.58" width="7.2" height="11.2" rx="2"/><rect x="1613.90" y="1069.92" width="7.2" height="11.2" rx="2"/><rect x="1613.90" y="1104.25" width="7.2" height="11.2" rx="2"/><rect x="1613.90" y="1138.59" width="7.2" height="11.2" rx="2"/><rect x="1613.90" y="1172.93" width="7.2" height="11.2" rx="2"/><rect x="1613.90" y="1207.27" width="7.2" height="11.2" rx="2"/><rect x="1613.90" y="1241.60" width="7.2" height="11.2" rx="2"/><rect x="1613.90" y="1275.94" width="7.2" height="11.2" rx="2"/><rect x="1613.90" y="1310.28" width="7.2" height="11.2" rx="2"/><rect x="1613.90" y="1344.61" width="7.2" height="11.2" rx="2"/><rect x="1613.90" y="1378.95" width="7.2" height="11.2" rx="2"/><rect x="1613.90" y="1413.29" width="7.2" height="11.2" rx="2"/><rect x="1613.90" y="1447.63" width="7.2" height="11.2" rx="2"/><rect x="1613.90" y="1481.96" width="7.2" height="11.2" rx="2"/><rect x="1613.90" y="1516.30" width="7.2" height="11.2" rx="2"/><rect x="1613.90" y="1550.64" width="7.2" height="11.2" rx="2"/><rect x="1613.90" y="1584.98" width="7.2" height="11.2" rx="2"/><rect x="1613.90" y="1619.31" width="7.2" height="11.2" rx="2"/><rect x="1613.90" y="1653.65" width="7.2" height="11.2" rx="2"/></g>
<g fill="#060807"><rect x="1643.00" y="47.40" width="8.0" height="11.2" rx="2"/><rect x="1643.00" y="81.74" width="8.0" height="11.2" rx="2"/><rect x="1643.00" y="116.08" width="8.0" height="11.2" rx="2"/><rect x="1643.00" y="150.42" width="8.0" height="11.2" rx="2"/><rect x="1643.00" y="184.76" width="8.0" height="11.2" rx="2"/><rect x="1643.00" y="219.10" width="8.0" height="11.2" rx="2"/><rect x="1643.00" y="253.44" width="8.0" height="11.2" rx="2"/><rect x="1643.00" y="287.78" width="8.0" height="11.2" rx="2"/><rect x="1643.00" y="322.12" width="8.0" height="11.2" rx="2"/><rect x="1643.00" y="356.46" width="8.0" height="11.2" rx="2"/><rect x="1643.00" y="390.80" width="8.0" height="11.2" rx="2"/><rect x="1643.00" y="425.14" width="8.0" height="11.2" rx="2"/><rect x="1643.00" y="459.49" width="8.0" height="11.2" rx="2"/><rect x="1643.00" y="493.83" width="8.0" height="11.2" rx="2"/><rect x="1643.00" y="528.17" width="8.0" height="11.2" rx="2"/><rect x="1643.00" y="562.51" width="8.0" height="11.2" rx="2"/><rect x="1643.00" y="596.85" width="8.0" height="11.2" rx="2"/><rect x="1643.00" y="631.19" width="8.0" height="11.2" rx="2"/><rect x="1643.00" y="665.53" width="8.0" height="11.2" rx="2"/><rect x="1643.00" y="699.87" width="8.0" height="11.2" rx="2"/><rect x="1643.00" y="734.21" width="8.0" height="11.2" rx="2"/><rect x="1643.00" y="768.55" width="8.0" height="11.2" rx="2"/><rect x="1643.00" y="802.89" width="8.0" height="11.2" rx="2"/><rect x="1643.00" y="837.23" width="8.0" height="11.2" rx="2"/><rect x="1643.00" y="871.57" width="8.0" height="11.2" rx="2"/><rect x="1643.00" y="905.91" width="8.0" height="11.2" rx="2"/><rect x="1643.00" y="940.25" width="8.0" height="11.2" rx="2"/><rect x="1643.00" y="974.59" width="8.0" height="11.2" rx="2"/><rect x="1643.00" y="1008.93" width="8.0" height="11.2" rx="2"/><rect x="1643.00" y="1043.27" width="8.0" height="11.2" rx="2"/><rect x="1643.00" y="1077.61" width="8.0" height="11.2" rx="2"/><rect x="1643.00" y="1111.95" width="8.0" height="11.2" rx="2"/><rect x="1643.00" y="1146.29" width="8.0" height="11.2" rx="2"/><rect x="1643.00" y="1180.63" width="8.0" height="11.2" rx="2"/><rect x="1643.00" y="1214.97" width="8.0" height="11.2" rx="2"/><rect x="1643.00" y="1249.31" width="8.0" height="11.2" rx="2"/><rect x="1643.00" y="1283.66" width="8.0" height="11.2" rx="2"/><rect x="1643.00" y="1318.00" width="8.0" height="11.2" rx="2"/><rect x="1643.00" y="1352.34" width="8.0" height="11.2" rx="2"/><rect x="1643.00" y="1386.68" width="8.0" height="11.2" rx="2"/><rect x="1643.00" y="1421.02" width="8.0" height="11.2" rx="2"/><rect x="1643.00" y="1455.36" width="8.0" height="11.2" rx="2"/><rect x="1643.00" y="1489.70" width="8.0" height="11.2" rx="2"/><rect x="1643.00" y="1524.04" width="8.0" height="11.2" rx="2"/><rect x="1643.00" y="1558.38" width="8.0" height="11.2" rx="2"/><rect x="1643.00" y="1592.72" width="8.0" height="11.2" rx="2"/><rect x="1643.00" y="1627.06" width="8.0" height="11.2" rx="2"/><rect x="1643.00" y="1661.40" width="8.0" height="11.2" rx="2"/></g>
<g fill="#060807"><rect x="1813.95" y="39.00" width="7.7" height="11.2" rx="2"/><rect x="1813.95" y="73.34" width="7.7" height="11.2" rx="2"/><rect x="1813.95" y="107.69" width="7.7" height="11.2" rx="2"/><rect x="1813.95" y="142.03" width="7.7" height="11.2" rx="2"/><rect x="1813.95" y="176.37" width="7.7" height="11.2" rx="2"/><rect x="1813.95" y="210.72" width="7.7" height="11.2" rx="2"/><rect x="1813.95" y="245.06" width="7.7" height="11.2" rx="2"/><rect x="1813.95" y="279.41" width="7.7" height="11.2" rx="2"/><rect x="1813.95" y="313.75" width="7.7" height="11.2" rx="2"/><rect x="1813.95" y="348.09" width="7.7" height="11.2" rx="2"/><rect x="1813.95" y="382.44" width="7.7" height="11.2" rx="2"/><rect x="1813.95" y="416.78" width="7.7" height="11.2" rx="2"/><rect x="1813.95" y="451.12" width="7.7" height="11.2" rx="2"/><rect x="1813.95" y="485.47" width="7.7" height="11.2" rx="2"/><rect x="1813.95" y="519.81" width="7.7" height="11.2" rx="2"/><rect x="1813.95" y="554.15" width="7.7" height="11.2" rx="2"/><rect x="1813.95" y="588.50" width="7.7" height="11.2" rx="2"/><rect x="1813.95" y="622.84" width="7.7" height="11.2" rx="2"/><rect x="1813.95" y="657.19" width="7.7" height="11.2" rx="2"/><rect x="1813.95" y="691.53" width="7.7" height="11.2" rx="2"/><rect x="1813.95" y="725.87" width="7.7" height="11.2" rx="2"/><rect x="1813.95" y="760.22" width="7.7" height="11.2" rx="2"/><rect x="1813.95" y="794.56" width="7.7" height="11.2" rx="2"/><rect x="1813.95" y="828.90" width="7.7" height="11.2" rx="2"/><rect x="1813.95" y="863.25" width="7.7" height="11.2" rx="2"/><rect x="1813.95" y="897.59" width="7.7" height="11.2" rx="2"/><rect x="1813.95" y="931.93" width="7.7" height="11.2" rx="2"/><rect x="1813.95" y="966.28" width="7.7" height="11.2" rx="2"/><rect x="1813.95" y="1000.62" width="7.7" height="11.2" rx="2"/><rect x="1813.95" y="1034.96" width="7.7" height="11.2" rx="2"/><rect x="1813.95" y="1069.31" width="7.7" height="11.2" rx="2"/><rect x="1813.95" y="1103.65" width="7.7" height="11.2" rx="2"/><rect x="1813.95" y="1138.00" width="7.7" height="11.2" rx="2"/><rect x="1813.95" y="1172.34" width="7.7" height="11.2" rx="2"/><rect x="1813.95" y="1206.68" width="7.7" height="11.2" rx="2"/><rect x="1813.95" y="1241.03" width="7.7" height="11.2" rx="2"/><rect x="1813.95" y="1275.37" width="7.7" height="11.2" rx="2"/><rect x="1813.95" y="1309.71" width="7.7" height="11.2" rx="2"/><rect x="1813.95" y="1344.06" width="7.7" height="11.2" rx="2"/><rect x="1813.95" y="1378.40" width="7.7" height="11.2" rx="2"/><rect x="1813.95" y="1412.74" width="7.7" height="11.2" rx="2"/><rect x="1813.95" y="1447.09" width="7.7" height="11.2" rx="2"/><rect x="1813.95" y="1481.43" width="7.7" height="11.2" rx="2"/><rect x="1813.95" y="1515.78" width="7.7" height="11.2" rx="2"/><rect x="1813.95" y="1550.12" width="7.7" height="11.2" rx="2"/><rect x="1813.95" y="1584.46" width="7.7" height="11.2" rx="2"/><rect x="1813.95" y="1618.81" width="7.7" height="11.2" rx="2"/><rect x="1813.95" y="1653.15" width="7.7" height="11.2" rx="2"/></g>
<path d="M1298.8,373.0L1603.2,236.9" stroke="#060807" stroke-width="6.3" stroke-linecap="butt" fill="none"/><path d="M1640.3,220.3L1606.0,248.0L1596.8,227.4Z" fill="#060807" stroke="#060807" stroke-width="3.0" stroke-linejoin="miter" stroke-miterlimit="2"/>
<path d="M1345.7,866.6L1568.9,755.9" stroke="#060807" stroke-width="6.3" stroke-linecap="butt" fill="none"/><path d="M1605.3,737.9L1572.1,766.9L1562.1,746.7Z" fill="#060807" stroke="#060807" stroke-width="3.0" stroke-linejoin="miter" stroke-miterlimit="2"/>
<path d="M1338.8,959.9L1573.1,1097.8" stroke="#060807" stroke-width="6.3" stroke-linecap="butt" fill="none"/><path d="M1608.1,1118.3L1565.6,1106.5L1577.1,1087.0Z" fill="#060807" stroke="#060807" stroke-width="3.0" stroke-linejoin="miter" stroke-miterlimit="2"/>
<path d="M1258.8,1185.0L1493.1,1322.8" stroke="#060807" stroke-width="6.3" stroke-linecap="butt" fill="none"/><path d="M1528.1,1343.3L1485.6,1331.5L1497.1,1312.0Z" fill="#060807" stroke="#060807" stroke-width="3.0" stroke-linejoin="miter" stroke-miterlimit="2"/>
<path d="M2072.4,1458.4L1865.6,1349.3" stroke="#060807" stroke-width="6.3" stroke-linecap="butt" fill="none"/><path d="M1829.7,1330.4L1872.7,1340.3L1862.1,1360.2Z" fill="#060807" stroke="#060807" stroke-width="3.0" stroke-linejoin="miter" stroke-miterlimit="2"/>
<rect x="218.00" y="1710" width="8" height="37.70" rx="1.6" fill="#060807"/>
<rect x="362.93" y="1710" width="8" height="21.80" rx="1.6" fill="#060807"/>
<rect x="507.86" y="1710" width="8" height="37.70" rx="1.6" fill="#060807"/>
<rect x="652.80" y="1710" width="8" height="21.80" rx="1.6" fill="#060807"/>
<rect x="797.73" y="1710" width="8" height="37.70" rx="1.6" fill="#060807"/>
<rect x="942.66" y="1710" width="8" height="21.80" rx="1.6" fill="#060807"/>
<rect x="1087.59" y="1710" width="8" height="37.70" rx="1.6" fill="#060807"/>
<rect x="1232.53" y="1710" width="8" height="21.80" rx="1.6" fill="#060807"/>
<rect x="1377.46" y="1710" width="8" height="37.70" rx="1.6" fill="#060807"/>
<rect x="1522.39" y="1710" width="8" height="21.80" rx="1.6" fill="#060807"/>
<rect x="1667.32" y="1710" width="8" height="37.70" rx="1.6" fill="#060807"/>
<rect x="1812.25" y="1710" width="8" height="21.80" rx="1.6" fill="#060807"/>
<rect x="1957.19" y="1710" width="8" height="37.70" rx="1.6" fill="#060807"/>
<rect x="2102.12" y="1710" width="8" height="21.80" rx="1.6" fill="#060807"/>
<rect x="2247.05" y="1710" width="8" height="37.70" rx="1.6" fill="#060807"/>
<text x="153.88" y="1814.00" font-size="69" fill="#060807" textLength="135.09" lengthAdjust="spacingAndGlyphs">4000</text>
<text x="442.93" y="1814.00" font-size="69" fill="#060807" textLength="136.67" lengthAdjust="spacingAndGlyphs">3500</text>
<text x="732.77" y="1814.00" font-size="69" fill="#060807" textLength="135.00" lengthAdjust="spacingAndGlyphs">3000</text>
<text x="1022.82" y="1814.00" font-size="69" fill="#060807" textLength="135.77" lengthAdjust="spacingAndGlyphs">2500</text>
<text x="1313.03" y="1814.00" font-size="69" fill="#060807" textLength="135.35" lengthAdjust="spacingAndGlyphs">2000</text>
<text x="1602.28" y="1814.00" font-size="69" fill="#060807" textLength="135.80" lengthAdjust="spacingAndGlyphs">1500</text>
<text x="1892.13" y="1814.00" font-size="69" fill="#060807" textLength="135.75" lengthAdjust="spacingAndGlyphs">1000</text>
<text x="2196.97" y="1814.00" font-size="69" fill="#060807" textLength="103.97" lengthAdjust="spacingAndGlyphs">500</text>
<text x="944.73" y="1977.00" font-size="68" fill="#060807" textLength="400.93" lengthAdjust="spacingAndGlyphs">Wavenumber</text>
<text x="1366.97" y="1977.00" font-size="68" fill="#060807" textLength="107.10" lengthAdjust="spacingAndGlyphs">(cm</text>
<text x="1475.54" y="1942.30" font-size="37" fill="#060807" textLength="32.83" lengthAdjust="spacingAndGlyphs">-1</text>
<text x="1509.39" y="1977.00" font-size="68" fill="#060807" textLength="20.75" lengthAdjust="spacingAndGlyphs">)</text>
<g transform="translate(71.5,1183) rotate(-90)"><text x="-1.33" y="0.00" font-size="68" fill="#060807" textLength="422.60" lengthAdjust="spacingAndGlyphs">Transmittance</text><text x="433.09" y="0.00" font-size="68" fill="#060807" textLength="154.12" lengthAdjust="spacingAndGlyphs">(a.u.)</text></g>
<text x="312.20" y="395.70" font-size="68" fill="#060807" textLength="215.81" lengthAdjust="spacingAndGlyphs">P(MTA</text><text x="529.15" y="426.50" font-size="40" fill="#060807" textLength="71.16" lengthAdjust="spacingAndGlyphs">0.76</text><text x="600.93" y="395.70" font-size="68" fill="#060807" textLength="98.69" lengthAdjust="spacingAndGlyphs" font-style="italic">-co-</text><text x="698.54" y="395.70" font-size="68" fill="#060807" textLength="210.99" lengthAdjust="spacingAndGlyphs">HEMA</text><text x="910.34" y="426.50" font-size="40" fill="#060807" textLength="71.80" lengthAdjust="spacingAndGlyphs">0.24</text><text x="981.33" y="395.70" font-size="68" fill="#060807" textLength="23.47" lengthAdjust="spacingAndGlyphs">)</text>
<text x="311.27" y="853.30" font-size="68" fill="#ED1C24" textLength="336.20" lengthAdjust="spacingAndGlyphs">P(MTAMeI</text><text x="646.67" y="884.10" font-size="40" fill="#ED1C24" textLength="70.43" lengthAdjust="spacingAndGlyphs">0.76</text><text x="717.60" y="853.30" font-size="68" fill="#ED1C24" textLength="99.95" lengthAdjust="spacingAndGlyphs" font-style="italic">-co-</text><text x="817.25" y="853.30" font-size="68" fill="#ED1C24" textLength="209.27" lengthAdjust="spacingAndGlyphs">HEMA</text><text x="1028.26" y="884.10" font-size="40" fill="#ED1C24" textLength="70.67" lengthAdjust="spacingAndGlyphs">0.24</text><text x="1097.63" y="853.30" font-size="68" fill="#ED1C24" textLength="23.47" lengthAdjust="spacingAndGlyphs">)</text>
<text x="303.29" y="1351.60" font-size="68" fill="#0E8140" textLength="322.47" lengthAdjust="spacingAndGlyphs">P(MTABuI</text><text x="624.47" y="1382.40" font-size="40" fill="#0E8140" textLength="70.43" lengthAdjust="spacingAndGlyphs">0.76</text><text x="695.09" y="1351.60" font-size="68" fill="#0E8140" textLength="100.16" lengthAdjust="spacingAndGlyphs" font-style="italic">-co-</text><text x="796.01" y="1351.60" font-size="68" fill="#0E8140" textLength="203.80" lengthAdjust="spacingAndGlyphs">HEMA</text><text x="1005.76" y="1382.40" font-size="40" fill="#0E8140" textLength="70.88" lengthAdjust="spacingAndGlyphs">0.24</text><text x="1076.83" y="1351.60" font-size="68" fill="#0E8140" textLength="22.43" lengthAdjust="spacingAndGlyphs">)</text>
<text x="1171.49" y="440.10" font-size="55.2" fill="#060807" textLength="109.80" lengthAdjust="spacingAndGlyphs">C=N</text>
<text x="1155.85" y="501.00" font-size="55.2" fill="#060807" textLength="112.59" lengthAdjust="spacingAndGlyphs">1550</text><text x="1282.10" y="501.00" font-size="55.2" fill="#060807" textLength="70.71" lengthAdjust="spacingAndGlyphs">cm</text><text x="1353.82" y="464.00" font-size="33.3" fill="#060807" textLength="26.49" lengthAdjust="spacingAndGlyphs">-1</text>
<text x="1190.19" y="896.20" font-size="55.2" fill="#060807" textLength="109.90" lengthAdjust="spacingAndGlyphs">C=N</text>
<text x="1299.28" y="861.30" font-size="33" fill="#060807" textLength="19.51" lengthAdjust="spacingAndGlyphs">+</text>
<text x="1132.75" y="953.00" font-size="55.2" fill="#060807" textLength="112.59" lengthAdjust="spacingAndGlyphs">1590</text><text x="1259.00" y="953.00" font-size="55.2" fill="#060807" textLength="70.71" lengthAdjust="spacingAndGlyphs">cm</text><text x="1330.72" y="916.00" font-size="33.3" fill="#060807" textLength="26.49" lengthAdjust="spacingAndGlyphs">-1</text>
<text x="1097.39" y="1196.40" font-size="55.2" fill="#060807" textLength="110.02" lengthAdjust="spacingAndGlyphs">C=O</text>
<text x="1035.85" y="1257.00" font-size="55.2" fill="#060807" textLength="112.59" lengthAdjust="spacingAndGlyphs">1720</text><text x="1162.10" y="1257.00" font-size="55.2" fill="#060807" textLength="70.71" lengthAdjust="spacingAndGlyphs">cm</text><text x="1233.82" y="1220.00" font-size="33.3" fill="#060807" textLength="26.49" lengthAdjust="spacingAndGlyphs">-1</text>
<text x="2011.98" y="1515.40" font-size="55.2" fill="#060807" textLength="101.64" lengthAdjust="spacingAndGlyphs">C-O</text>
<text x="1982.75" y="1579.80" font-size="55.2" fill="#060807" textLength="112.59" lengthAdjust="spacingAndGlyphs">1250</text><text x="2109.00" y="1579.80" font-size="55.2" fill="#060807" textLength="70.71" lengthAdjust="spacingAndGlyphs">cm</text><text x="2180.72" y="1542.80" font-size="33.3" fill="#060807" textLength="26.49" lengthAdjust="spacingAndGlyphs">-1</text>
</svg>
</body></html>
